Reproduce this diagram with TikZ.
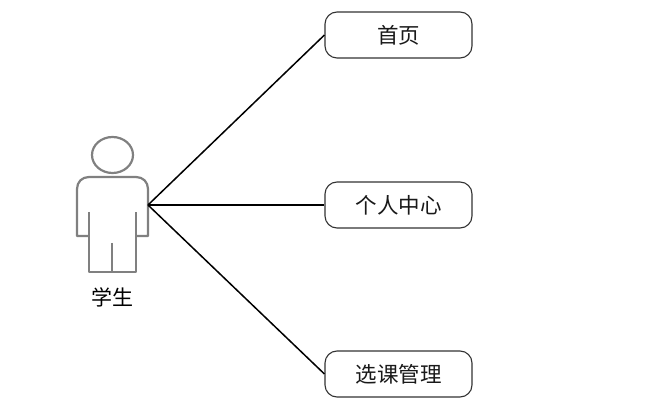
\documentclass[tikz,border=0pt]{standalone}
\usepackage{fontspec}
\newfontfamily\cjk{Noto Sans CJK SC}
\tikzset{
  page/.style={x=1pt,y=-1pt},
  usecase/.style={draw=black!80,line width=1.1pt,rounded corners=12pt,minimum width=147pt,minimum height=46pt,inner sep=0pt,font=\cjk\fontsize{21.5}{24}\selectfont,text=black!90},
  actorline/.style={draw=black!50,line width=2.2pt,line join=round},
  link/.style={draw=black,line width=1.5pt},
  actorlabel/.style={inner sep=0pt,font=\cjk\fontsize{21}{24}\selectfont}
}
\begin{document}
\begin{tikzpicture}[page]
\useasboundingbox (0,0) rectangle (650,411);
\fill[white] (0,0) rectangle (650,411);
\node[usecase] (home) at (398.5,35) {首页};
\node[usecase] (center) at (398.5,205) {个人中心};
\node[usecase] (manage) at (398.5,374) {选课管理};
% actor
\draw[actorline] (112.5,155) ellipse [x radius=20.5,y radius=18];
\draw[actorline] (89,236) -- (77,236) -- (77,189) .. controls (77,182) and (82,177) .. (89,177) -- (136,177) .. controls (143,177) and (148,182) .. (148,189) -- (148,236) -- (136,236);
\draw[actorline] (89,212) -- (89,272) -- (136,272) -- (136,212);
\draw[actorline] (112,243) -- (112,272);
\coordinate (hand) at (148,205);
\node[actorlabel] (student) at (112,297) {学生};
\draw[link] (hand) -- (home.west);
\draw[link] (hand) -- (center.west);
\draw[link] (hand) -- (manage.west);
\end{tikzpicture}
\end{document}
